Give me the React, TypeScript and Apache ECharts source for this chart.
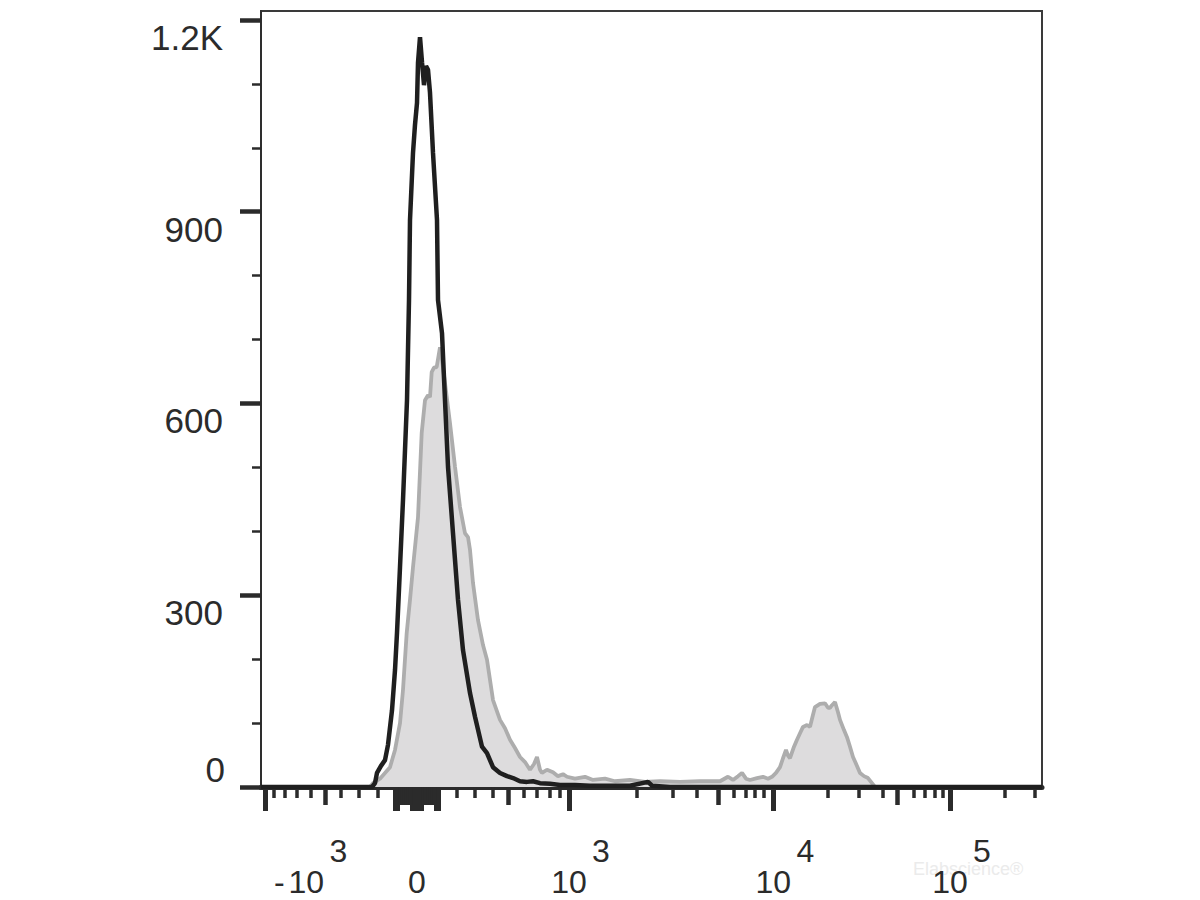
import React, { useEffect, useRef } from "react";
import * as echarts from "echarts";

// ---- Data (display channel on x, event count on y) ----
const GRAY_HIST: [number, number][] = [
  [0, 0], [109, 0], [112, 6], [119, 13], [129, 31], [134, 58], [139, 100], [142, 152], [145.7, 241], [149, 293],
  [152, 344], [157, 422], [160.7, 554], [164, 605], [167, 613], [169, 610], [170.7, 649], [173, 656], [175.7, 657], [179, 688],
  [181, 668], [184, 632], [189, 569], [194, 501], [199, 438], [204, 397], [207, 391], [209, 371], [212, 319], [217, 261],
  [222, 222], [226, 199], [232, 136], [239, 105], [244, 92], [249, 74], [254, 61], [259, 47], [264, 39], [269, 27],
  [273, 36], [276, 47], [279, 27], [281, 22], [286, 27], [292, 23], [297, 17], [302, 20], [306, 16], [314, 13],
  [324, 16], [332, 11], [344, 13], [354, 9], [369, 11], [384, 8], [399, 9], [419, 8], [439, 9], [452, 9],
  [459, 9], [467, 16], [472, 11], [477, 17], [481, 22], [485, 13], [489, 11], [496, 14], [502, 16], [507, 13],
  [511, 16], [515, 22], [519, 31], [522, 45], [525, 58], [527, 49], [529, 45], [533, 63], [536, 74], [539, 84],
  [542, 94], [546, 97], [549, 94], [552, 113], [554, 125], [559, 130], [564, 131], [567, 124], [569, 124], [571, 128],
  [574, 133], [577, 117], [579, 105], [583, 89], [586, 78], [589, 63], [592, 47], [596, 33], [599, 22], [603, 17],
  [607, 14], [611, 6], [614, 0], [781, 0],
];

const BLACK_HIST: [number, number][] = [
  [0, 0], [111, 0], [114, 6], [116, 22], [120, 33], [124, 42], [127, 66], [131, 120], [134, 183], [136, 241],
  [139, 344], [142, 449], [144, 527], [146, 605], [148, 762], [149, 887], [152, 992], [154, 1036], [156, 1070], [157, 1133],
  [159, 1173], [161, 1134], [163, 1098], [165, 1128], [167, 1122], [169, 1086], [172, 992], [176, 887], [177, 762], [181, 710],
  [184, 605], [187, 501], [192, 397], [197, 293], [202, 214], [209, 147], [214, 110], [221, 63], [226, 53], [232, 31],
  [239, 22], [246, 17], [252, 14], [259, 9], [266, 8], [272, 9], [279, 6], [289, 5], [299, 3], [314, 3],
  [329, 2], [349, 2], [369, 2], [387, 8], [391, 2], [409, 0], [781, 0],
];

// ---- Biexponential axis calibration: |value| -> channel offset from zero ----
const X_ZERO_CHANNEL = 156;
const X_CHANNEL_MAX = 781;
const X_SCALE_ABS = [0, 100, 200, 300, 400, 500, 600, 700, 800, 900, 1000, 2000, 3000, 4000, 5000, 6000, 7000, 8000, 9000, 10000,
  20000, 30000, 40000, 50000, 60000, 70000, 80000, 90000, 100000, 200000, 300000];
const X_SCALE_OFFSET = [0, 21.5, 39.5, 58, 76, 91.5, 106.5, 120, 132.5, 143, 152, 219.7, 255.3, 279.7, 301.3, 316.3, 328.7, 338, 347, 356.3,
  410.7, 441.3, 465.7, 480.7, 496.3, 508, 517.3, 525.7, 533, 588, 618];

const X_TICKS_LONG = [-1000, -100, -90, -20, -10, 0, 10, 20, 90, 100, 1000, 10000, 100000];
const X_TICKS_MEDIUM = [-500, -80, -70, -60, -50, -40, -30, 30, 40, 50, 60, 70, 80, 500, 5000, 50000];
const X_TICKS_SHORT = [-900, -800, -700, -600, -400, -300, -200, 200, 300, 400, 600, 700, 800, 900,
  2000, 3000, 4000, 6000, 7000, 8000, 9000, 20000, 30000, 40000, 60000, 70000, 80000, 90000, 200000, 300000];

const X_LABEL_VALUES = [-1000, 0, 1000, 10000, 100000];
const X_LABEL_BASE = ["-10", "0", "10", "10", "10"];
const X_LABEL_EXP = ["3", "", "3", "4", "5"];

const Y_MAX = 1214;
const Y_TICKS_MAJOR = [0, 300, 600, 900, 1200];
const Y_TICKS_MINOR = [100, 200, 400, 500, 700, 800, 1000, 1100];
const Y_LABELS_UPPER = [300, 600, 900, 1200];
const Y_LABELS_LOWER = [0];

const FONT = "'Liberation Sans', Arial, Helvetica, sans-serif";
const INK = "#2b2b2b";

function toChannel(v: number): number {
  const a = Math.abs(v);
  let off = X_SCALE_OFFSET[X_SCALE_OFFSET.length - 1];
  for (let i = 1; i < X_SCALE_ABS.length; i++) {
    if (a <= X_SCALE_ABS[i]) {
      const a0 = X_SCALE_ABS[i - 1], a1 = X_SCALE_ABS[i];
      const o0 = X_SCALE_OFFSET[i - 1], o1 = X_SCALE_OFFSET[i];
      off = o0 + ((a - a0) / (a1 - a0)) * (o1 - o0);
      break;
    }
  }
  return X_ZERO_CHANNEL + Math.sign(v) * off;
}

function labelIndex(value: number): number {
  return X_LABEL_VALUES.findIndex((v) => Math.abs(toChannel(v) - value) < 1e-6);
}

function baseLabel(value: number): string {
  const i = labelIndex(value);
  if (i < 0) return "";
  const base = X_LABEL_BASE[i];
  if (base.startsWith("-")) return `{pn| }{b|-}{g| }{b|${base.slice(1)}}`;
  return `{b|${base}}`;
}

function expLabel(value: number): string {
  const i = labelIndex(value);
  if (i < 0 || !X_LABEL_EXP[i]) return "";
  const pad = X_LABEL_BASE[i].startsWith("-") ? "qn" : "q";
  return `{${pad}| }{e|${X_LABEL_EXP[i]}}`;
}

const LABEL_RICH = {
  pn: { width: 68, fontSize: 32, lineHeight: 32 },
  g: { width: 4, fontSize: 32, lineHeight: 32 },
  q: { width: 64, fontSize: 32, lineHeight: 32 },
  qn: { width: 147, fontSize: 32, lineHeight: 32 },
  b: { fontSize: 32, lineHeight: 32, color: INK, fontFamily: FONT },
  e: { fontSize: 32, lineHeight: 32, color: INK, fontFamily: FONT },
};

function xAxisLayer(
  tickValues: number[] | null,
  length: number,
  width: number,
  showLine: boolean,
  labelValues: number[] | null,
  formatter: ((v: number) => string) | null,
  margin: number
): any {
  return {
    type: "value",
    position: "bottom",
    min: 0,
    max: X_CHANNEL_MAX,
    axisLine: showLine
      ? { show: true, onZero: false, lineStyle: { color: INK, width: 5 } }
      : { show: false, onZero: false },
    axisTick: tickValues
      ? { show: true, customValues: tickValues.map(toChannel), length, lineStyle: { color: INK, width } }
      : { show: false },
    axisLabel: labelValues && formatter
      ? {
          show: true,
          customValues: labelValues.map(toChannel),
          formatter,
          margin,
          fontSize: 32,
          lineHeight: 32,
          color: INK,
          fontFamily: FONT,
          rich: LABEL_RICH,
        }
      : { show: false },
    splitLine: { show: false },
  };
}

export default function App() {
  const ref = useRef<HTMLDivElement>(null);

  useEffect(() => {
    if (!ref.current) return;
    const chart = echarts.init(ref.current, null, { renderer: "svg" });
    const option: any = {
      animation: false,
      backgroundColor: "#ffffff",
      grid: {
        left: 261,
        right: 158,
        top: 11,
        bottom: 113,
        show: true,
        borderColor: "#3a3a3a",
        borderWidth: 2,
        backgroundColor: "transparent",
      },
      xAxis: [
        xAxisLayer(X_TICKS_LONG, 24, 5, true, X_LABEL_VALUES, baseLabel, 79),
        xAxisLayer(X_TICKS_MEDIUM, 18, 4.5, false, null, null, 0),
        xAxisLayer(X_TICKS_SHORT, 11, 3.5, false, null, null, 0),
        xAxisLayer(null, 0, 0, false, X_LABEL_VALUES.filter((_, i) => X_LABEL_EXP[i] !== ""), expLabel, 48),
      ],
      yAxis: [
        {
          type: "value",
          position: "left",
          min: 0,
          max: Y_MAX,
          axisLine: { show: true, onZero: false, lineStyle: { color: INK, width: 1.5 } },
          axisTick: { show: true, customValues: Y_TICKS_MAJOR, length: 21, lineStyle: { color: INK, width: 4.5 } },
          axisLabel: {
            show: true,
            customValues: Y_LABELS_UPPER,
            formatter: (v: number) => (v >= 1000 ? `${v / 1000}K` : String(v)),
            verticalAlign: "top",
            margin: 38,
            fontSize: 35,
            color: INK,
            fontFamily: FONT,
          },
          splitLine: { show: false },
        },
        {
          type: "value",
          position: "left",
          min: 0,
          max: Y_MAX,
          axisLine: { show: false, onZero: false },
          axisTick: { show: true, customValues: Y_TICKS_MINOR, length: 9, lineStyle: { color: INK, width: 2.5 } },
          axisLabel: {
            show: true,
            customValues: Y_LABELS_LOWER,
            formatter: (v: number) => String(v),
            verticalAlign: "bottom",
            margin: 36,
            fontSize: 35,
            color: INK,
            fontFamily: FONT,
          },
          splitLine: { show: false },
        },
      ],
      series: [
        {
          name: "stained",
          type: "line",
          xAxisIndex: 0,
          yAxisIndex: 0,
          data: GRAY_HIST,
          symbol: "none",
          silent: true,
          lineStyle: { color: "#adadad", width: 3.8 },
          areaStyle: { color: "#dddcdd", opacity: 1 },
          z: 2,
        },
        {
          name: "control",
          type: "line",
          xAxisIndex: 0,
          yAxisIndex: 0,
          data: BLACK_HIST,
          symbol: "none",
          silent: true,
          lineStyle: { color: "#1f1f1f", width: 4.5 },
          z: 3,
        },
      ],
      graphic: [
        {
          type: "text",
          left: 913,
          top: 860,
          z: 0,
          style: { text: "Elabscience®", fontSize: 18, fill: "#ebebeb", fontFamily: FONT },
        },
      ],
    };
    chart.setOption(option);
    return () => chart.dispose();
  }, []);

  return (
    <div
      ref={ref}
      style={{ position: "fixed", left: 0, top: 0, width: 1200, height: 900, background: "#ffffff" }}
    />
  );
}
